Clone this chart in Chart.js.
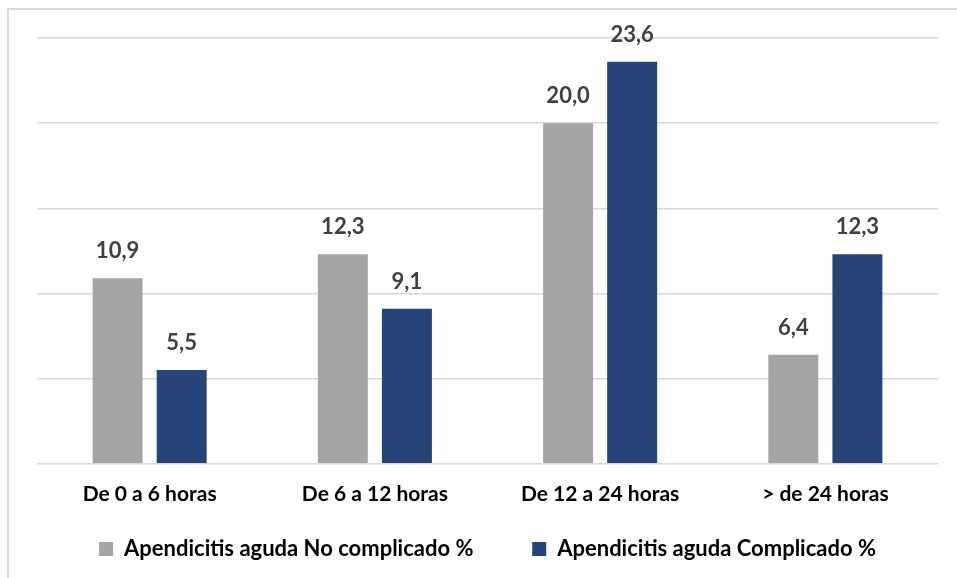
<!DOCTYPE html>
<html>
<head>
<meta charset="utf-8">
<script src="https://cdn.jsdelivr.net/npm/chart.js@4"></script>
<style>
  html, body { margin: 0; padding: 0; background: #fff; }
  #frame {
    position: absolute; left: 7px; top: 8px;
    width: 950px; height: 570px;
    border-left: 2px solid #d9d9d9; border-top: 2px solid #d9d9d9;
  }
  #wrap { position: relative; width: 948px; height: 568px; }
</style>
</head>
<body>
<div id="frame"><div id="wrap"><canvas id="chart"></canvas></div></div>
<script>
const categories = ['De 0 a 6 horas', 'De 6 a 12 horas', 'De 12 a 24 horas', '> de 24 horas'];
const noComplicado = [10.9, 12.3, 20.0, 6.4];
const complicado = [5.5, 9.1, 23.6, 12.3];
const seriesNames = ['Apendicitis aguda No complicado %', 'Apendicitis aguda Complicado %'];

const FONT = 'Lato, "Open Sans", sans-serif';

// data labels above the bars
const barLabels = {
  id: 'barLabels',
  afterDatasetsDraw(chart) {
    const ctx = chart.ctx;
    ctx.save();
    ctx.font = 'bold 22px ' + FONT;
    ctx.fillStyle = '#404040';
    ctx.textAlign = 'center';
    ctx.textBaseline = 'alphabetic';
    chart.data.datasets.forEach((ds, i) => {
      chart.getDatasetMeta(i).data.forEach((bar, j) => {
        const txt = ds.data[j].toFixed(1).replace('.', ',');
        ctx.fillText(txt, bar.x, bar.y - 20);
      });
    });
    ctx.restore();
  }
};

new Chart(document.getElementById('chart'), {
  type: 'bar',
  data: {
    labels: categories,
    datasets: [{
      label: seriesNames[0],
      data: noComplicado,
      backgroundColor: '#a5a5a5'
    }, {
      label: seriesNames[1],
      data: complicado,
      backgroundColor: '#264478'
    }]
  },
  options: {
    responsive: true,
    maintainAspectRatio: false,
    animation: false,
    categoryPercentage: 0.569,
    barPercentage: 0.78,
    layout: { padding: { left: 28, right: 19, top: 28, bottom: 8 } },
    scales: {
      x: {
        grid: { display: false },
        border: { display: false },
        ticks: { color: '#000', font: { family: FONT, size: 21, weight: 'bold' }, padding: 10 },
        afterFit(scale) { scale.height += 5; }
      },
      y: {
        min: 0, max: 25,
        ticks: { display: false, stepSize: 5 },
        border: { display: false },
        grid: { color: '#d9d9d9', lineWidth: 1.5, drawTicks: false }
      }
    },
    plugins: {
      tooltip: { enabled: false },
      legend: {
        position: 'bottom',
        labels: {
          color: '#000',
          boxWidth: 14, boxHeight: 14,
          padding: 16,
          font: { family: FONT, size: 22, weight: 'bold' },
          // wider gap between the two entries
          generateLabels(chart) {
            const items = Chart.defaults.plugins.legend.labels.generateLabels(chart);
            items.forEach((it, i) => { if (i < items.length - 1) it.text += '        '; });
            return items;
          }
        }
      }
    }
  },
  plugins: [barLabels]
});
</script>
</body>
</html>
